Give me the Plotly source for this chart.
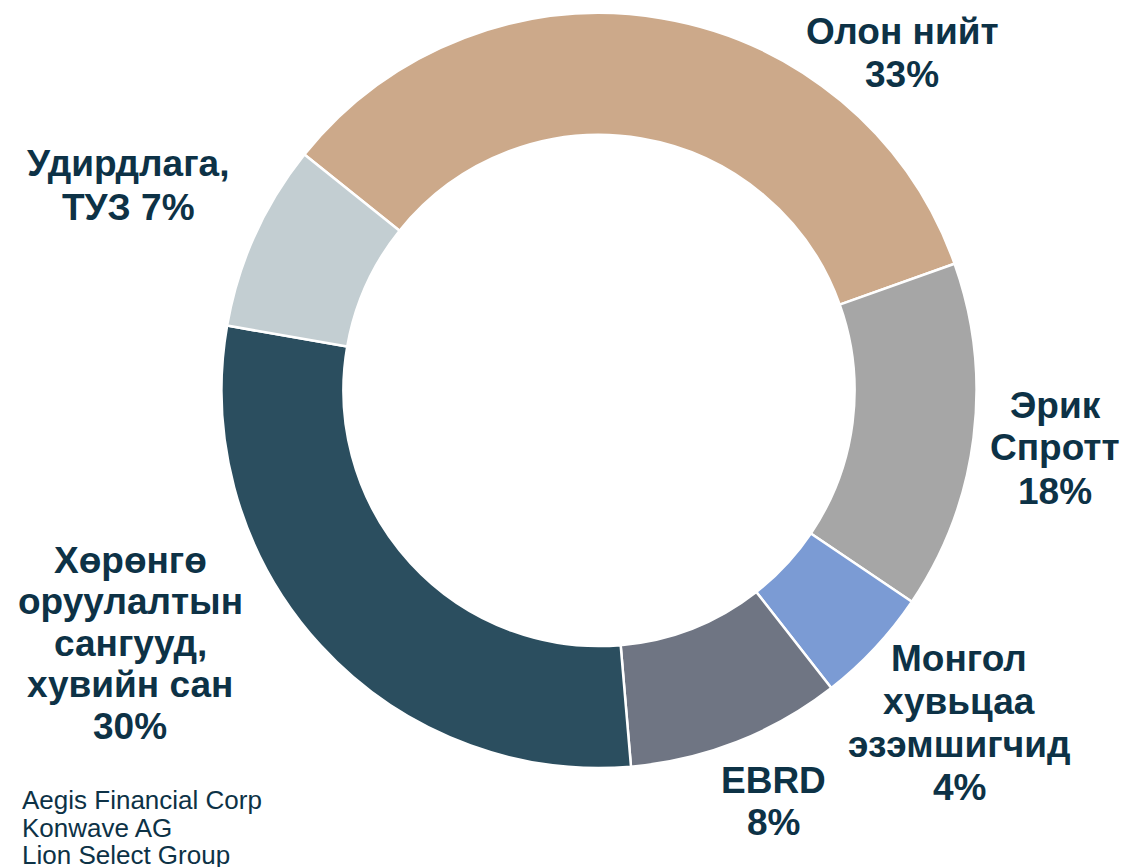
import plotly.graph_objects as go

categories = ["Олон нийт", "Эрик Спротт", "Монгол хувьцаа эзэмшигчид", "EBRD",
              "Хөрөнгө оруулалтын сангууд, хувийн сан", "Удирдлага, ТУЗ"]
shares = [33.8, 14.9, 5.0, 9.2, 29.1, 8.0]
label_lines = [["Олон нийт", "33%"],
               ["Эрик", "Спротт", "18%"],
               ["Монгол", "хувьцаа", "эзэмшигчид", "4%"],
               ["EBRD", "8%"],
               ["Хөрөнгө", "оруулалтын", "сангууд,", "хувийн сан", "30%"],
               ["Удирдлага,", "ТУЗ 7%"]]
colors = ["#CCA98A", "#A6A6A6", "#7B9BD4", "#6F7583", "#2B4E5F", "#C3CED2"]
footnote_lines = ["Aegis Financial Corp", "Konwave AG", "Lion Select Group"]

W, H = 1125, 867
cx, cy, R = 599, 390.5, 377.5

fig = go.Figure(go.Pie(
    labels=categories, values=shares, sort=False, direction="clockwise",
    rotation=-51.3, hole=0.677, textinfo="none", hoverinfo="label+percent",
    marker=dict(colors=colors, line=dict(color="white", width=2.5)),
    domain=dict(x=[(cx - R) / W, (cx + R) / W], y=[1 - (cy + R) / H, 1 - (cy - R) / H]),
    showlegend=False,
))

# label block: (center x, first line y, line step) in pixels
label_pos = [(902, 31.5, 43), (1055, 405, 43), (959, 658, 43), (773, 780, 42), (130, 560, 41.5), (128, 164, 43.5)]
TXT = "#0D3246"
for lines, (x, y0, step) in zip(label_lines, label_pos):
    for i, ln in enumerate(lines):
        fig.add_annotation(x=x / W, y=1 - (y0 + i * step) / H, xref="paper", yref="paper",
                           text="<b>" + ln + "</b>", showarrow=False,
                           xanchor="center", yanchor="middle", align="center",
                           font=dict(family="Liberation Sans, Arial", size=37, color=TXT))

for i, line in enumerate(footnote_lines):
    fig.add_annotation(x=20 / W, y=1 - (800 + i * 27.5) / H, xref="paper", yref="paper", text=line,
                       showarrow=False, xanchor="left", yanchor="middle", align="left",
                       font=dict(family="Liberation Sans, Arial", size=26, color=TXT))

fig.update_layout(width=W, height=H, margin=dict(l=0, r=0, t=0, b=0),
                  paper_bgcolor="white", plot_bgcolor="white")
fig.write_html("out.html", config={"displayModeBar": False},
               post_script="document.body.style.margin='0px';")
